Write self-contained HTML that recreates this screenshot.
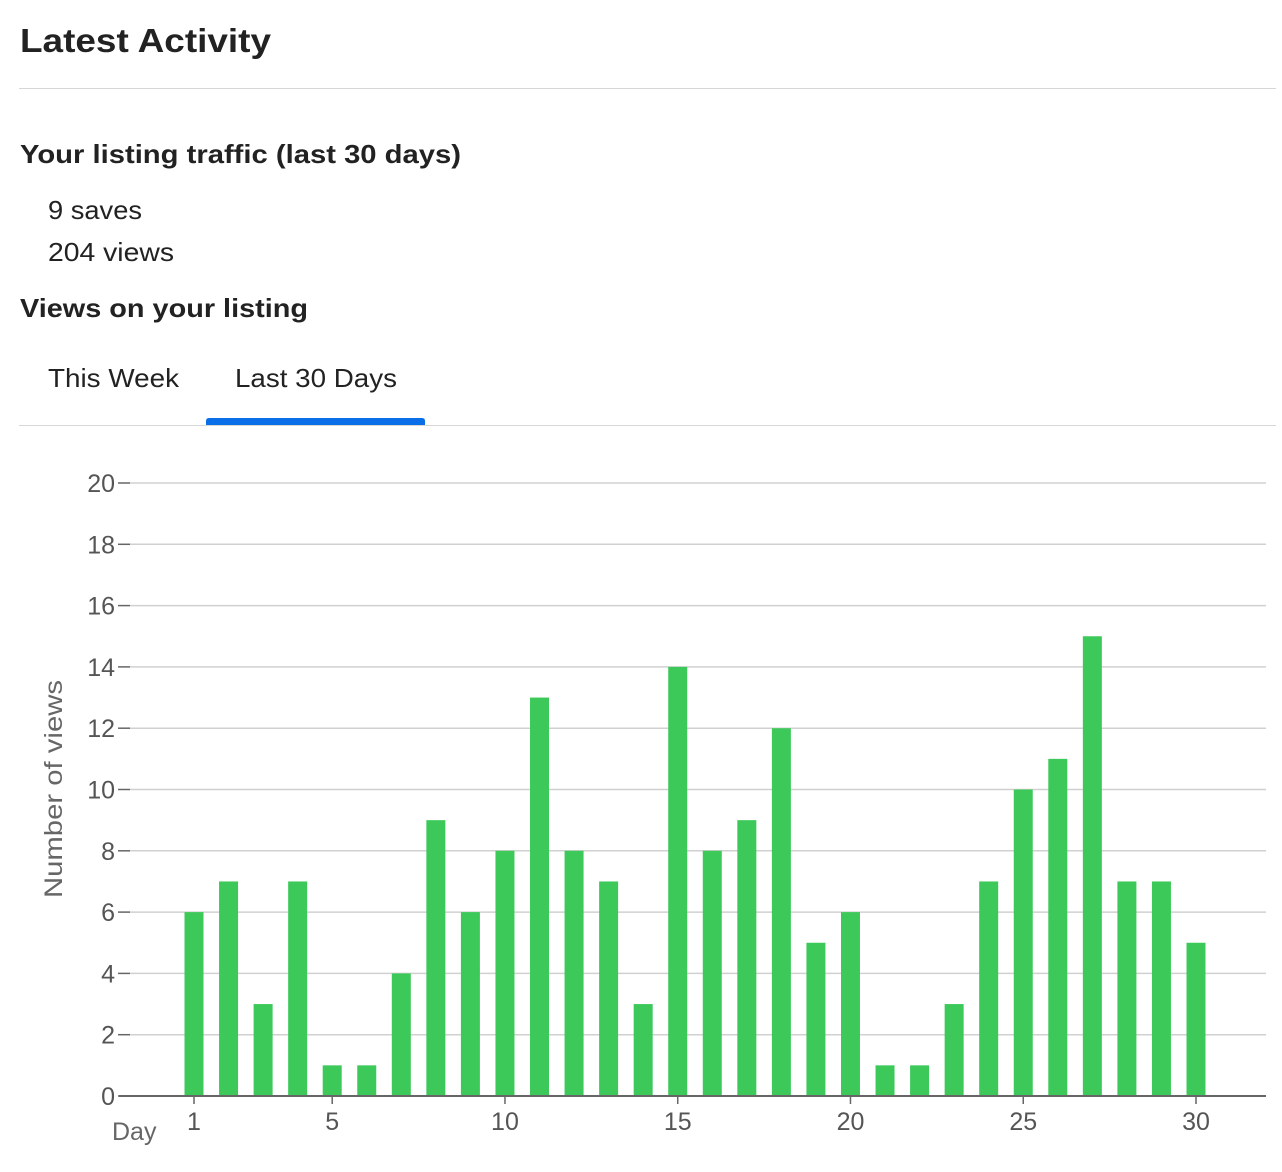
<!DOCTYPE html>
<html><head><meta charset="utf-8"><style>
body{margin:0;background:#fff;}
svg{display:block;font-family:"Liberation Sans",sans-serif;}
</style></head><body>
<svg width="1282" height="1172" viewBox="0 0 1282 1172">
<text x="20" y="52" font-size="33" font-weight="bold" fill="#222" textLength="251" lengthAdjust="spacingAndGlyphs">Latest Activity</text>
<rect x="19" y="88" width="1257" height="1" fill="#d6d6d6"/>
<text x="20" y="163" font-size="26" font-weight="bold" fill="#222" textLength="441" lengthAdjust="spacingAndGlyphs">Your listing traffic (last 30 days)</text>
<text x="48" y="219" font-size="26" fill="#222" textLength="94" lengthAdjust="spacingAndGlyphs">9 saves</text>
<text x="48" y="261" font-size="26" fill="#222" textLength="126" lengthAdjust="spacingAndGlyphs">204 views</text>
<text x="20" y="317" font-size="26" font-weight="bold" fill="#222" textLength="288" lengthAdjust="spacingAndGlyphs">Views on your listing</text>
<text x="48" y="387" font-size="26" fill="#222" textLength="131" lengthAdjust="spacingAndGlyphs">This Week</text>
<text x="235" y="387" font-size="26" fill="#222" textLength="162" lengthAdjust="spacingAndGlyphs">Last 30 Days</text>
<path d="M206 425 V421 Q206 418 209 418 H422 Q425 418 425 421 V425 Z" fill="#0a6ee8"/>
<rect x="19" y="425" width="1257" height="1" fill="#d6d6d6"/>
<g id="chart"></g>
</svg>
<script>
const days=[1,2,3,4,5,6,7,8,9,10,11,12,13,14,15,16,17,18,19,20,21,22,23,24,25,26,27,28,29,30];
const views=[6,7,3,7,1,1,4,9,6,8,13,8,7,3,14,8,9,12,5,6,1,1,3,7,10,11,15,7,7,5];
const yTicks=[0,2,4,6,8,10,12,14,16,18,20];
const xTicks=[1,5,10,15,20,25,30];
const NS="http://www.w3.org/2000/svg";
const g=document.getElementById('chart');
const y=v=>1096-v*(613/20);
const x=d=>194+(d-1)*(1002/29);
function mk(t,a){const e=document.createElementNS(NS,t);for(const k in a)e.setAttribute(k,a[k]);g.appendChild(e);return e;}
yTicks.forEach(v=>{
 if(v>0){const l=mk('line',{x1:130,x2:1266,y1:y(v),y2:y(v),stroke:'#d0d0d0','stroke-width':1.5});
 
 }
 const tk=mk('line',{x1:118,x2:130,y1:y(v),y2:y(v),stroke:'#666','stroke-width':1.5});
 
 
 const t=mk('text',{x:115,y:y(v)+9,'text-anchor':'end','font-size':25,fill:'#555'});
 t.textContent=v;
 
 
});
days.forEach((d,i)=>{
 const r=mk('rect',{x:x(d)-9.5,y:y(views[i]),width:19,height:y(0)-y(views[i]),fill:'#3dc95a'});
 
 
});
const ax=mk('line',{x1:119,x2:1266,y1:1096,y2:1096,stroke:'#666','stroke-width':2});


xTicks.forEach(d=>{
 const tk=mk('line',{x1:x(d),x2:x(d),y1:1096,y2:1104,stroke:'#666','stroke-width':1.5});
 
 
 const t=mk('text',{x:x(d),y:1130,'text-anchor':'middle','font-size':25,fill:'#555'});
 t.textContent=d;
 
 
});
const xt=mk('text',{x:112,y:1140,'font-size':25,fill:'#666'});
xt.textContent='Day';


const yt=mk('text',{x:0,y:0,'font-size':25,fill:'#666','text-anchor':'middle',transform:'translate(62,789) rotate(-90)',textLength:218,lengthAdjust:'spacingAndGlyphs'});
yt.textContent='Number of views';


</script>
</body></html>
